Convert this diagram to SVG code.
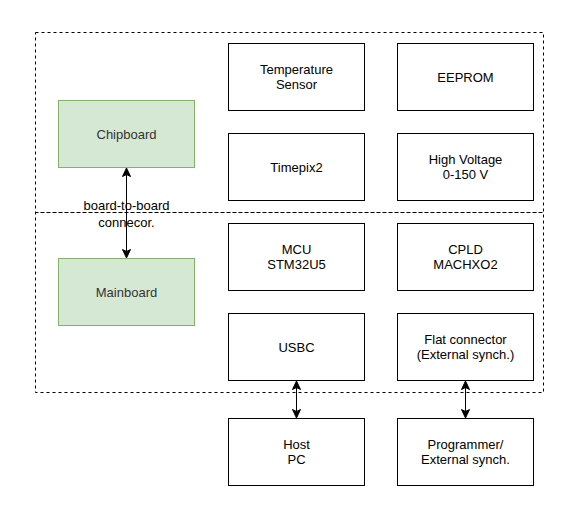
<svg xmlns="http://www.w3.org/2000/svg" width="582" height="519" viewBox="0 0 582 519">
<defs>
<style>
.box{fill:#ffffff;stroke:#000000;stroke-width:1}
.green{fill:#d5e8d4;stroke:#82b366;stroke-width:1}
.group{fill:none;stroke:#000000;stroke-width:1;stroke-dasharray:3 3}
.t{font-family:"Liberation Sans",Arial,Helvetica,sans-serif;font-size:13px;fill:#000000;text-anchor:middle}
.link{stroke:#000000;stroke-width:1;fill:none}
</style>
<marker id="arr" viewBox="0 0 10 10" refX="9" refY="5" markerWidth="10" markerHeight="10" markerUnits="userSpaceOnUse" orient="auto-start-reverse">
<path d="M0.5,1 L9,5 L0.5,9 L2.5,5 Z" fill="#000000" stroke="#000000" stroke-width="1"/>
</marker>
</defs>
<rect width="582" height="519" fill="#ffffff"/>
<g id="group-chipboard-area"><rect class="group" x="35.5" y="32.5" width="508" height="180"/></g>
<g id="group-mainboard-area"><rect class="group" x="35.5" y="212.5" width="508" height="180"/></g>
<g id="chipboard"><rect class="green" x="58.5" y="100.5" width="136" height="67"/><text class="t" x="126.5" y="138.5" style="fill:#333333">Chipboard</text></g>
<g id="mainboard"><rect class="green" x="58.5" y="258.5" width="136" height="67"/><text class="t" x="126.5" y="296.5" style="fill:#333333">Mainboard</text></g>
<g id="temperature-sensor"><rect class="box" x="228.5" y="43.5" width="136" height="67"/><text class="t" x="296.5" y="74">Temperature</text><text class="t" x="296.5" y="89">Sensor</text></g>
<g id="eeprom"><rect class="box" x="397.5" y="43.5" width="136" height="67"/><text class="t" x="465.5" y="81.5">EEPROM</text></g>
<g id="timepix2"><rect class="box" x="228.5" y="133.5" width="136" height="67"/><text class="t" x="296.5" y="171.5">Timepix2</text></g>
<g id="high-voltage"><rect class="box" x="397.5" y="133.5" width="136" height="67"/><text class="t" x="465.5" y="164">High Voltage</text><text class="t" x="465.5" y="179">0-150 V</text></g>
<g id="mcu"><rect class="box" x="228.5" y="223.5" width="136" height="67"/><text class="t" x="296.5" y="254">MCU</text><text class="t" x="296.5" y="269">STM32U5</text></g>
<g id="cpld"><rect class="box" x="397.5" y="223.5" width="136" height="67"/><text class="t" x="465.5" y="254">CPLD</text><text class="t" x="465.5" y="269">MACHXO2</text></g>
<g id="usbc"><rect class="box" x="228.5" y="313.5" width="136" height="67"/><text class="t" x="296.5" y="351.5">USBC</text></g>
<g id="flat-connector"><rect class="box" x="397.5" y="313.5" width="136" height="67"/><text class="t" x="465.5" y="344">Flat connector</text><text class="t" x="465.5" y="359">(External synch.)</text></g>
<g id="host-pc"><rect class="box" x="228.5" y="418.5" width="136" height="67"/><text class="t" x="296.5" y="449">Host</text><text class="t" x="296.5" y="464">PC</text></g>
<g id="programmer"><rect class="box" x="397.5" y="418.5" width="136" height="67"/><text class="t" x="465.5" y="449">Programmer/</text><text class="t" x="465.5" y="464">External synch.</text></g>
<g id="connectors">
<line class="link" x1="126.5" y1="168" x2="126.5" y2="258" marker-start="url(#arr)" marker-end="url(#arr)"/>
<text class="t" x="126.5" y="209.5">board-to-board</text>
<text class="t" x="126.5" y="226.5">connecor.</text>
<line class="link" x1="296.5" y1="381" x2="296.5" y2="418" marker-start="url(#arr)" marker-end="url(#arr)"/>
<line class="link" x1="465.5" y1="381" x2="465.5" y2="418" marker-start="url(#arr)" marker-end="url(#arr)"/>
</g>
</svg>
